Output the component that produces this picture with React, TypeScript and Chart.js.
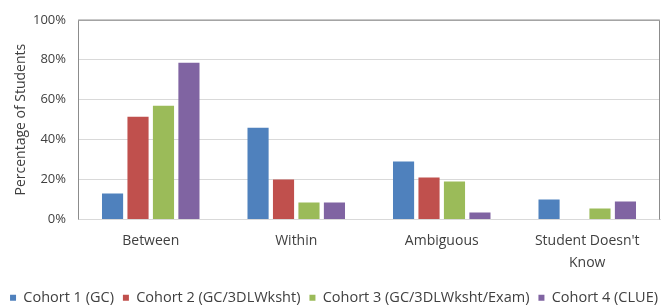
import React, { useEffect, useRef } from "react";
import { Chart, registerables } from "chart.js";

Chart.register(...registerables);

const categories: (string | string[])[] = ["Between", "Within", "Ambiguous", ["Student Doesn't", "Know"]];
const cohort1 = [13, 46, 29, 10];
const cohort2 = [51.5, 20, 21, 0];
const cohort3 = [57, 8.5, 19, 5.5];
const cohort4 = [78.5, 8.5, 3.5, 9];
const seriesNames = ["Cohort 1 (GC)", "Cohort 2 (GC/3DLWksht)", "Cohort 3 (GC/3DLWksht/Exam)", "Cohort 4 (CLUE)"];
const colors = ["#4f81bd", "#c0504d", "#9bbb59", "#8064a2"];

const FONT = "'Open Sans', 'Noto Sans', sans-serif";

const borderPlugin = {
  id: "plotBorder",
  afterDraw(chart: any) {
    const { ctx, chartArea } = chart;
    ctx.save();
    ctx.strokeStyle = "#8c8c8c";
    ctx.lineWidth = 1;
    ctx.beginPath();
    ctx.moveTo(chartArea.left + 0.5, chartArea.bottom);
    ctx.lineTo(chartArea.left + 0.5, chartArea.top + 0.5);
    ctx.lineTo(chartArea.right - 0.5, chartArea.top + 0.5);
    ctx.lineTo(chartArea.right - 0.5, chartArea.bottom);
    ctx.stroke();
    ctx.restore();
  },
};

export default function App() {
  const ref = useRef<HTMLCanvasElement>(null);
  useEffect(() => {
    document.body.style.margin = "0";
    const data = [cohort1, cohort2, cohort3, cohort4];
    const chart = new Chart(ref.current!, {
      type: "bar",
      data: {
        labels: categories,
        datasets: seriesNames.map((n, i) => ({
          label: n,
          data: data[i],
          backgroundColor: colors[i],
          categoryPercentage: 0.7,
          barPercentage: 0.83,
        })),
      },
      options: {
        animation: false,
        responsive: false,
        maintainAspectRatio: false,
        layout: { padding: { top: 17, right: 0, left: 0, bottom: -7 } },
        plugins: {
          tooltip: { enabled: false },
          legend: {
            position: "bottom",
            labels: {
              boxWidth: 6,
              boxHeight: 6,
              padding: 9,
              color: "#404040",
              font: { family: FONT, size: 14.5 },
            },
          },
        },
        scales: {
          x: {
            grid: { display: false },
            border: { display: true, color: "#d9d9d9" },
            ticks: {
              color: "#404040",
              font: { family: FONT, size: 14, lineHeight: 1.55 },
              maxRotation: 0,
              padding: 3,
            },
            afterFit: (s: any) => {
              s.height = 62;
            },
          },
          y: {
            min: 0,
            max: 100,
            grid: { color: "#d9d9d9", drawTicks: false },
            border: { display: false },
            ticks: {
              stepSize: 20,
              padding: 12,
              color: "#404040",
              font: { family: FONT, size: 13 },
              callback: (v: any) => v + "%",
            },
            title: {
              display: true,
              text: "Percentage of Students",
              color: "#404040",
              font: { family: FONT, size: 14 },
              padding: { top: 13, bottom: 4 },
            },
            afterFit: (s: any) => {
              s.width = 78;
            },
          },
          y2: {
            position: "right",
            display: true,
            grid: { display: false },
            border: { display: false },
            ticks: { display: false },
            afterFit: (s: any) => {
              s.width = 8;
            },
          },
        },
      },
      plugins: [borderPlugin],
    });
    return () => chart.destroy();
  }, []);
  return (
    <div style={{ position: "fixed", left: 0, top: 0, width: 668, height: 308, background: "#fff" }}>
      <canvas ref={ref} width={668} height={308} />
    </div>
  );
}
